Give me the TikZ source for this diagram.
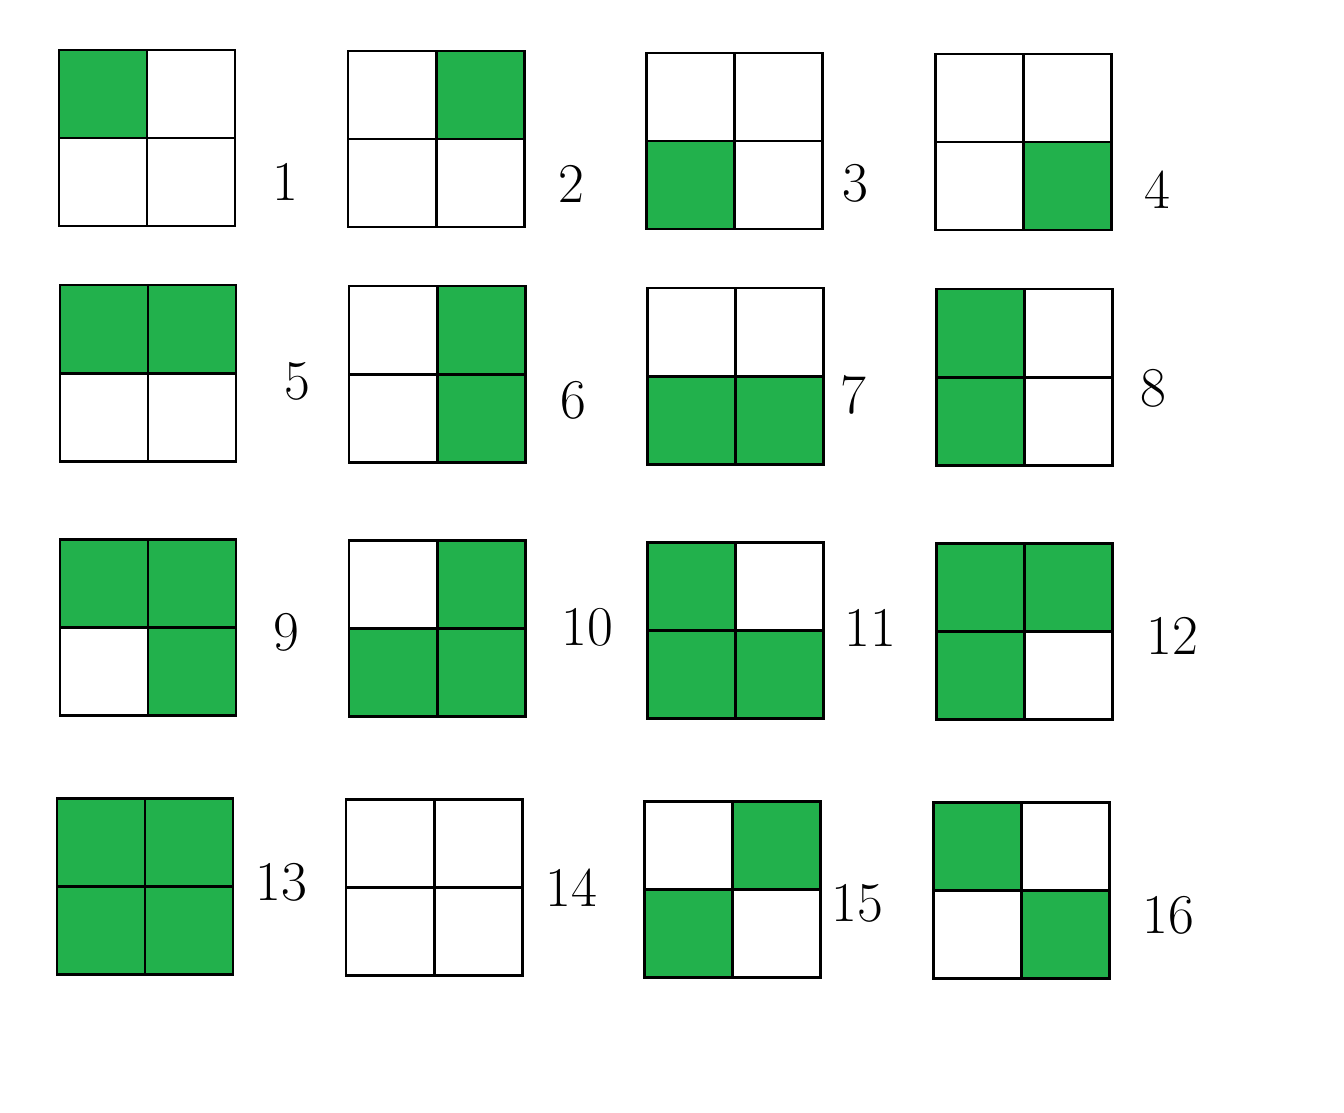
\documentclass[tikz,border=0pt]{standalone}
\usepackage{tikz}
\usetikzlibrary{positioning}

\definecolor{paintgreen}{HTML}{22B14C}
\tikzset{
  gridline/.style={draw=black,line width=1.7pt},
  greencell/.style={fill=paintgreen},
  numlabel/.style={font=\fontsize{32}{36}\selectfont,text=black,anchor=center,inner sep=0pt}
}

\begin{document}
\begin{tikzpicture}[x=0.02cm,y=-0.02cm]
\useasboundingbox (0,0) rectangle (1344,1112);
\fill[white] (0,0) rectangle (1344,1112);

% row 1
\fill[greencell] (59,50) rectangle +(88,88);
\fill[greencell] (436,51) rectangle +(88,88);
\fill[greencell] (646,141) rectangle +(88,88);
\fill[greencell] (1023,142) rectangle +(88,88);
% row 2
\fill[greencell] (60,285) rectangle +(176,88);
\fill[greencell] (437,286) rectangle +(88,176);
\fill[greencell] (647,376) rectangle +(176,88);
\fill[greencell] (936,289) rectangle +(88,176);
% row 3
\fill[greencell] (60,539) rectangle +(176,88);
\fill[greencell] (148,627) rectangle +(88,88);
\fill[greencell] (437,540) rectangle +(88,88);
\fill[greencell] (349,628) rectangle +(176,88);
\fill[greencell] (647,542) rectangle +(88,88);
\fill[greencell] (647,630) rectangle +(176,88);
\fill[greencell] (936,543) rectangle +(176,88);
\fill[greencell] (936,631) rectangle +(88,88);
% row 4
\fill[greencell] (57,798) rectangle +(176,176);
\fill[greencell] (732,801) rectangle +(88,88);
\fill[greencell] (644,889) rectangle +(88,88);
\fill[greencell] (933,802) rectangle +(88,88);
\fill[greencell] (1021,890) rectangle +(88,88);

% grid lines
\foreach \gx/\gy in {59/50,348/51,646/53,935/54,
                     60/285,349/286,647/288,936/289,
                     60/539,349/540,647/542,936/543,
                     57/798,346/799,644/801,933/802}{
  \draw[gridline] (\gx,\gy) rectangle +(176,176);
  \draw[gridline] (\gx+88,\gy) -- +(0,176);
  \draw[gridline] (\gx,\gy+88) -- +(176,0);
}

% labels
\node[numlabel] (l1) at (285,182) {1};
\node[numlabel] (l2) at (571,184) {2};
\node[numlabel] (l3) at (855,183) {3};
\node[numlabel] (l4) at (1157,190) {4};
\node[numlabel] (l5) at (297,381) {5};
\node[numlabel] (l6) at (573,400) {6};
\node[numlabel] (l7) at (853,395) {7};
\node[numlabel] (l8) at (1153,388) {8};
\node[numlabel] (l9) at (286,632) {9};
\node[numlabel] (l10) at (587,627) {10};
\node[numlabel] (l11) at (870,628) {11};
\node[numlabel] (l12) at (1172,636) {12};
\node[numlabel] (l13) at (281,882) {13};
\node[numlabel] (l14) at (571,888) {14};
\node[numlabel] (l15) at (857,903) {15};
\node[numlabel] (l16) at (1168,915) {16};

\end{tikzpicture}
\end{document}
